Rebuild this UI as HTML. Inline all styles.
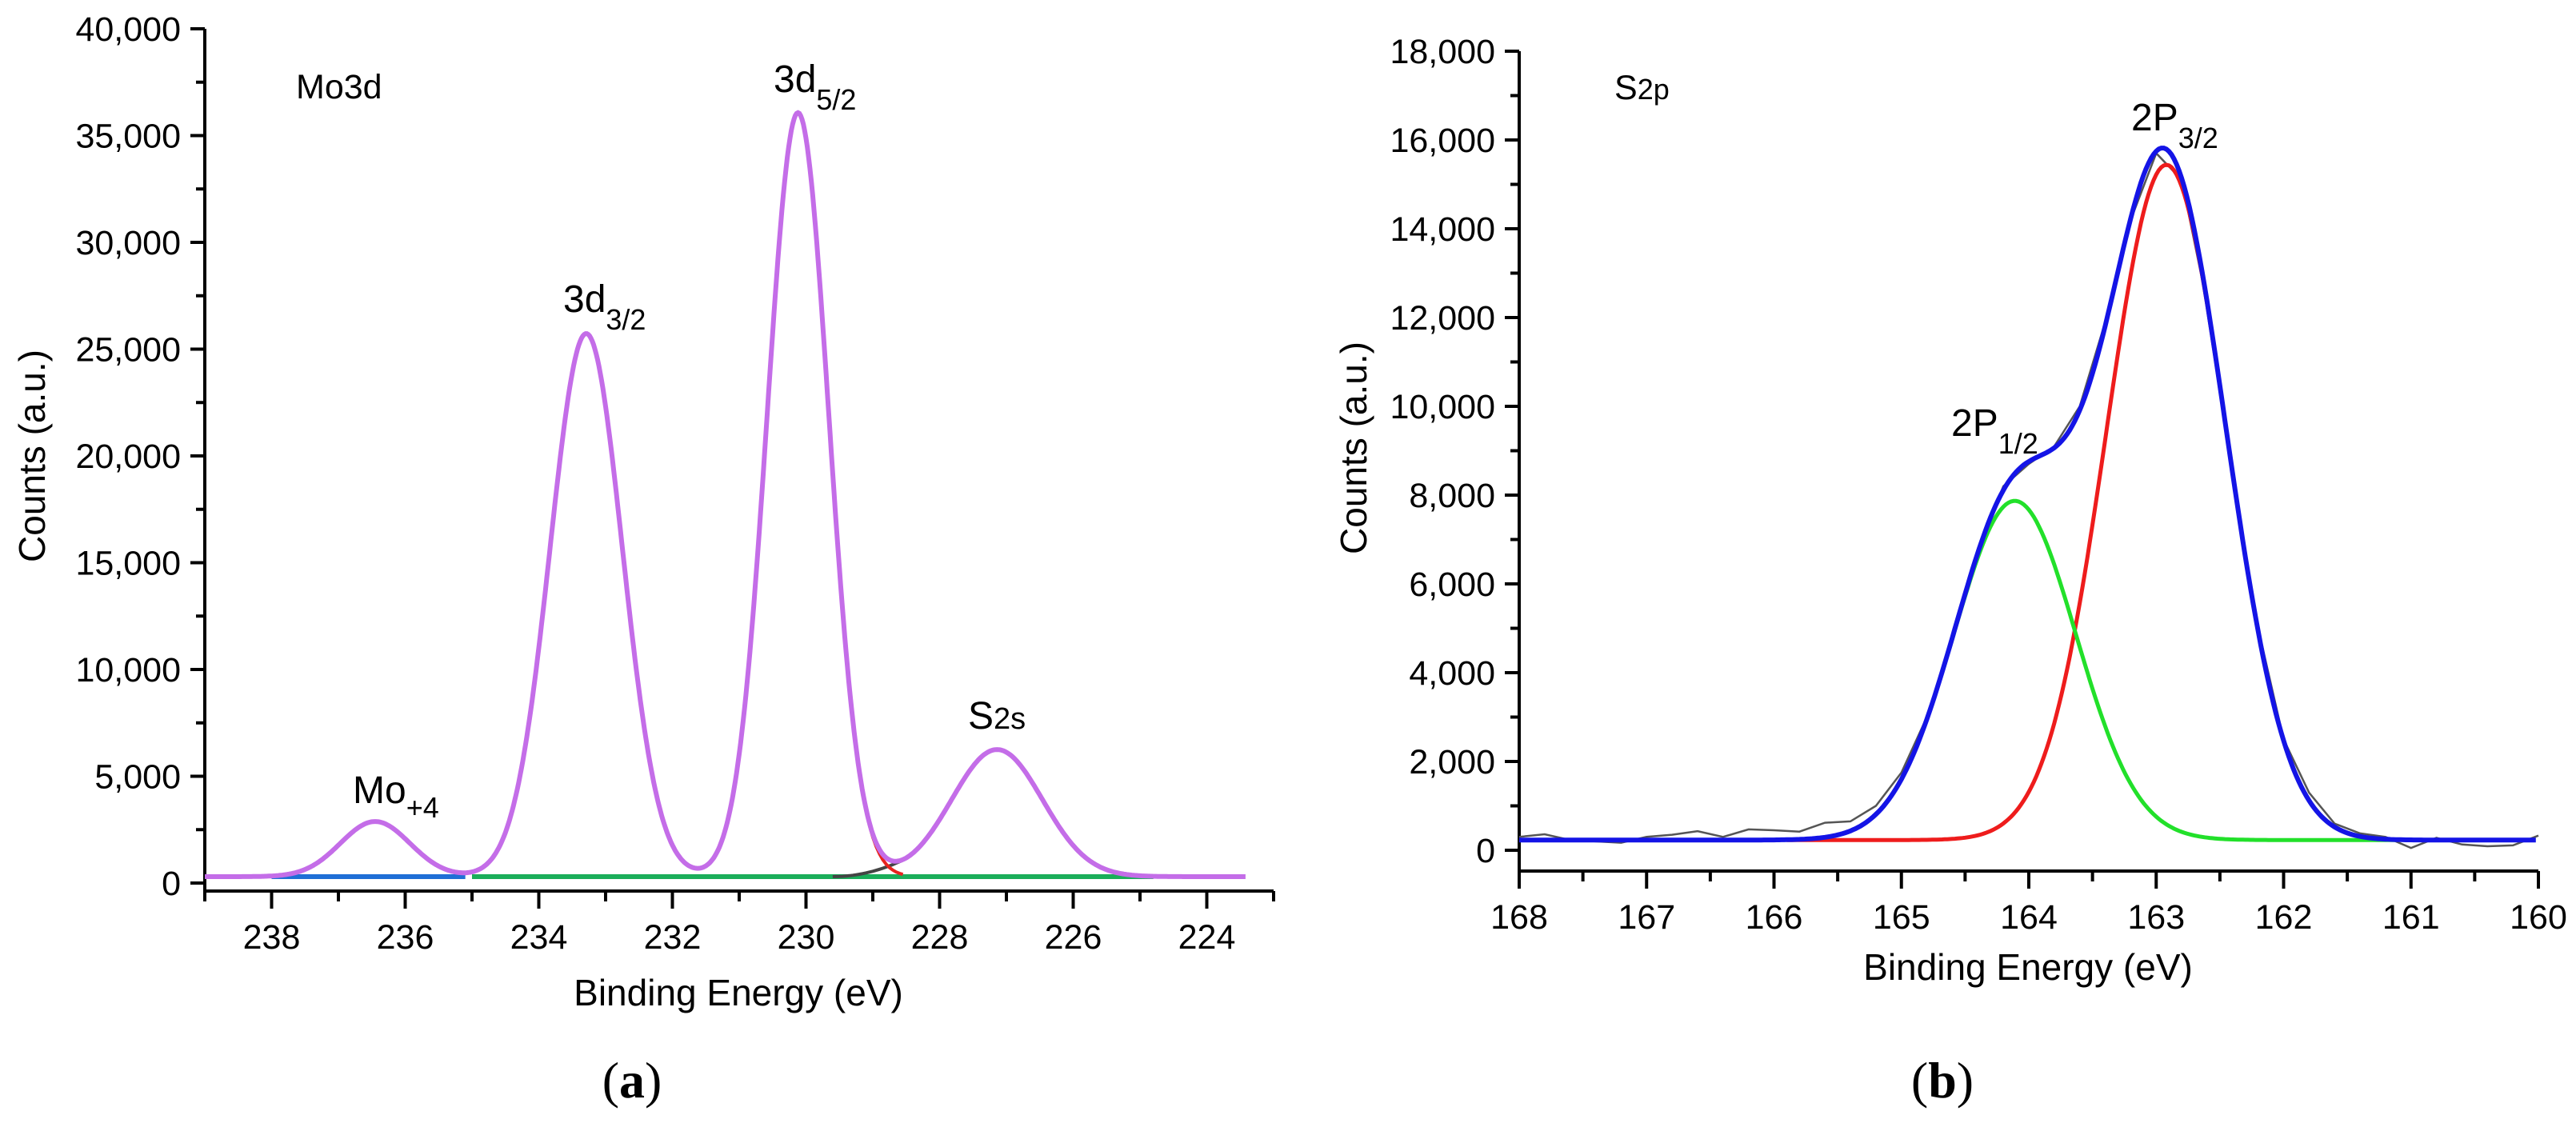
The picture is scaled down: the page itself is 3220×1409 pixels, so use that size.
<!DOCTYPE html>
<html><head><meta charset="utf-8"><style>
html,body{margin:0;padding:0;background:#fff}
svg{display:block}
text{font-family:"Liberation Sans",sans-serif;fill:#000}
</style></head><body>
<svg id="fig" width="3220" height="1409" viewBox="0 0 3220 1409" xmlns="http://www.w3.org/2000/svg"></svg>
<script>
// ---- Panel (a) Mo3d data ----
const aPeakNames = ["Mo+4", "3d3/2", "3d5/2", "S2s"];
const aCenters = [236.45, 233.29, 230.12, 227.14];
const aHeights = [2580, 25430, 35770, 5950];
const aSigmas = [0.52, 0.54, 0.46, 0.68];
const aBaseline = 300;
const aXTicks = [238, 236, 234, 232, 230, 228, 226, 224];
const aYTicks = [0, 5000, 10000, 15000, 20000, 25000, 30000, 35000, 40000];
// ---- Panel (b) S2p data ----
const bCenters = [164.11, 162.92];
const bHeights = [7640, 15210];
const bSigmas = [0.48, 0.47];
const bBaseline = 230;
const bRawX = [168,167.8,167.6,167.4,167.2,167,166.8,166.6,166.4,166.2,166,165.8,165.6,165.4,165.2,165,164.8,164.6,164.4,164.2,164,163.8,163.6,163.4,163.2,163,162.8,162.6,162.4,162.2,162,161.8,161.6,161.4,161.2,161,160.8,160.6,160.4,160.2,160];
const bRawY = [300,360,230,200,170,300,350,430,300,470,450,420,620,650,1000,1750,3000,4800,6800,8200,8700,9100,10000,11900,14200,15700,15100,12300,8500,5000,2500,1300,600,380,300,50,280,130,90,110,330];
const bXTicks = [168,167,166,165,164,163,162,161,160];
const bYTicks = [0,2000,4000,6000,8000,10000,12000,14000,16000,18000];

const NS="http://www.w3.org/2000/svg";
const svg=document.getElementById('fig');
function el(tag,attrs,parent){const e=document.createElementNS(NS,tag);for(const k in attrs)e.setAttribute(k,attrs[k]);(parent||svg).appendChild(e);return e;}
function gauss(x,c,h,s){return h*Math.exp(-((x-c)*(x-c))/(2*s*s));}
function fmt(v){return v.toLocaleString('en-US');}

const ax={x0:239,x1:223,px0:256,px1:1592,y0:0,y1:40000,py0:1104,py1:36};
const bx={x0:168,x1:160,px0:1899,px1:3173,y0:0,y1:18000,py0:1063,py1:64};
function X(a,v){return a.px0+(v-a.x0)/(a.x1-a.x0)*(a.px1-a.px0);}
function Y(a,v){return a.py0+(v-a.y0)/(a.y1-a.y0)*(a.py1-a.py0);}
function path(pts,a){return pts.map((p,i)=>(i?'L':'M')+X(a,p[0]).toFixed(1)+' '+Y(a,p[1]).toFixed(1)).join(' ');}

function drawAxes(a,axisY,xTicks,yTicks,xMinorStep,yMinorStep,xEnd,name){
  const g=el('g',{},svg);
  
  
  const yl=el('line',{x1:a.px0,y1:axisY,x2:a.px0,y2:a.py1,stroke:'#000','stroke-width':4},g);
  
  const xl=el('line',{x1:a.px0-2,y1:axisY,x2:xEnd,y2:axisY,stroke:'#000','stroke-width':4},g);
  
  yTicks.forEach(v=>{
    const y=Y(a,v);
    el('line',{x1:a.px0-18,y1:y,x2:a.px0,y2:y,stroke:'#000','stroke-width':4},g);
    const t=el('text',{x:a.px0-30,y:y+15,'font-size':43,'text-anchor':'end'},g);
    t.textContent=fmt(v);
    
  });
  for(let v=yTicks[0]+yMinorStep;v<yTicks[yTicks.length-1];v+=2*yMinorStep){
    const y=Y(a,v);el('line',{x1:a.px0-11,y1:y,x2:a.px0,y2:y,stroke:'#000','stroke-width':4},g);
  }
  xTicks.forEach(v=>{
    const x=X(a,v);
    el('line',{x1:x,y1:axisY,x2:x,y2:axisY+22,stroke:'#000','stroke-width':4},g);
    const t=el('text',{x:x,y:axisY+72,'font-size':43,'text-anchor':'middle'},g);
    t.textContent=v;
    
  });
  const lo=Math.min(a.x0,a.x1),hi=Math.max(a.x0,a.x1);
  for(let v=Math.ceil(lo/xMinorStep)*xMinorStep;v<=hi+1e-9;v+=xMinorStep){
    if(xTicks.some(t=>Math.abs(t-v)<1e-6))continue;
    const x=X(a,v);el('line',{x1:x,y1:axisY,x2:x,y2:axisY+13,stroke:'#000','stroke-width':4},g);
  }
}

// ===== Panel a =====
drawAxes(ax,1114,aXTicks,aYTicks,1,2500,1592,'panel-a');
function aEnv(x){let s=aBaseline;for(let i=0;i<aCenters.length;i++)s+=gauss(x,aCenters[i],aHeights[i],aSigmas[i]);return s;}
let p;
p=el('line',{x1:X(ax,238),y1:Y(ax,aBaseline),x2:X(ax,235.1),y2:Y(ax,aBaseline),stroke:'#1f6fd6','stroke-width':6});

p=el('line',{x1:X(ax,235),y1:Y(ax,aBaseline),x2:X(ax,224.8),y2:Y(ax,aBaseline),stroke:'#1aae5a','stroke-width':6});

let pts=[];for(let x=229.6;x>=228.5;x-=0.05)pts.push([x,aBaseline+(229.6-x)*(229.6-x)*700]);
p=el('path',{d:path(pts,ax),fill:'none',stroke:'#444','stroke-width':4});

pts=[];for(let x=229.8;x>=228.5;x-=0.05)pts.push([x,aBaseline+gauss(x,aCenters[2],aHeights[2],aSigmas[2])]);
p=el('path',{d:path(pts,ax),fill:'none',stroke:'#e8231f','stroke-width':4});

pts=[];for(let x=239;x>=223.4;x-=0.02)pts.push([x,aEnv(x)]);
p=el('path',{d:path(pts,ax),fill:'none',stroke:'#c46de8','stroke-width':6});


function label(x,y,main,sub,size,subSize,dy,name){
  const t=el('text',{x:x,y:y,'font-size':size});
  
  const a=el('tspan',{},t);a.textContent=main;
  if(sub){const b=el('tspan',{'font-size':subSize,dy:dy},t);b.textContent=sub;}
  return t;
}
label(370,123,'Mo3d',null,43,0,0,'mo3d-title');
label(704,390,'3d','3/2',48,36,22,'3d32-label');
label(967,115,'3d','5/2',48,36,22,'3d52-label');
label(441,1004,'Mo','+4',48,36,18,'mo4-label');
label(1210,911,'S','2s',48,38,0,'s2s-label');
let t=el('text',{x:923,y:1257,'font-size':46,'text-anchor':'middle'});t.textContent='Binding Energy (eV)';

t=el('text',{x:0,y:0,'font-size':46,'text-anchor':'middle',transform:'translate(56,570) rotate(-90)'});t.textContent='Counts (a.u.)';

t=el('text',{x:790,y:1372,'font-size':64,'text-anchor':'middle',style:'font-family:"Liberation Serif",serif'});
t.innerHTML='(<tspan font-weight="bold">a</tspan>)';


// ===== Panel b =====
drawAxes(bx,1089,bXTicks,bYTicks,0.5,1000,3173,'panel-b');
p=el('path',{d:path(bRawX.map((x,i)=>[x,bRawY[i]]),bx),fill:'none',stroke:'#555','stroke-width':2.5});

pts=[];for(let x=165.9;x>=161.4;x-=0.02)pts.push([x,bBaseline+gauss(x,bCenters[1],bHeights[1],bSigmas[1])]);
p=el('path',{d:path(pts,bx),fill:'none',stroke:'#ee1c1c','stroke-width':5});

pts=[];for(let x=165.3;x>=161.1;x-=0.02)pts.push([x,bBaseline+gauss(x,bCenters[0],bHeights[0],bSigmas[0])]);
p=el('path',{d:path(pts,bx),fill:'none',stroke:'#22e02a','stroke-width':5});

pts=[];for(let x=168;x>=160;x-=0.02){let s=bBaseline;for(let i=0;i<2;i++)s+=gauss(x,bCenters[i],bHeights[i],bSigmas[i]);pts.push([x,s]);}
p=el('path',{d:path(pts,bx),fill:'none',stroke:'#1414e6','stroke-width':6});

label(2018,124,'S','2p',43,36,0,'s2p-title');
label(2664,163,'2P','3/2',48,36,22,'2p32-label');
label(2439,545,'2P','1/2',48,36,22,'2p12-label');
t=el('text',{x:2535,y:1225,'font-size':46,'text-anchor':'middle'});t.textContent='Binding Energy (eV)';

t=el('text',{x:0,y:0,'font-size':46,'text-anchor':'middle',transform:'translate(1708,560) rotate(-90)'});t.textContent='Counts (a.u.)';

t=el('text',{x:2428,y:1372,'font-size':64,'text-anchor':'middle',style:'font-family:"Liberation Serif",serif'});
t.innerHTML='(<tspan font-weight="bold">b</tspan>)';

</script>
</body></html>
